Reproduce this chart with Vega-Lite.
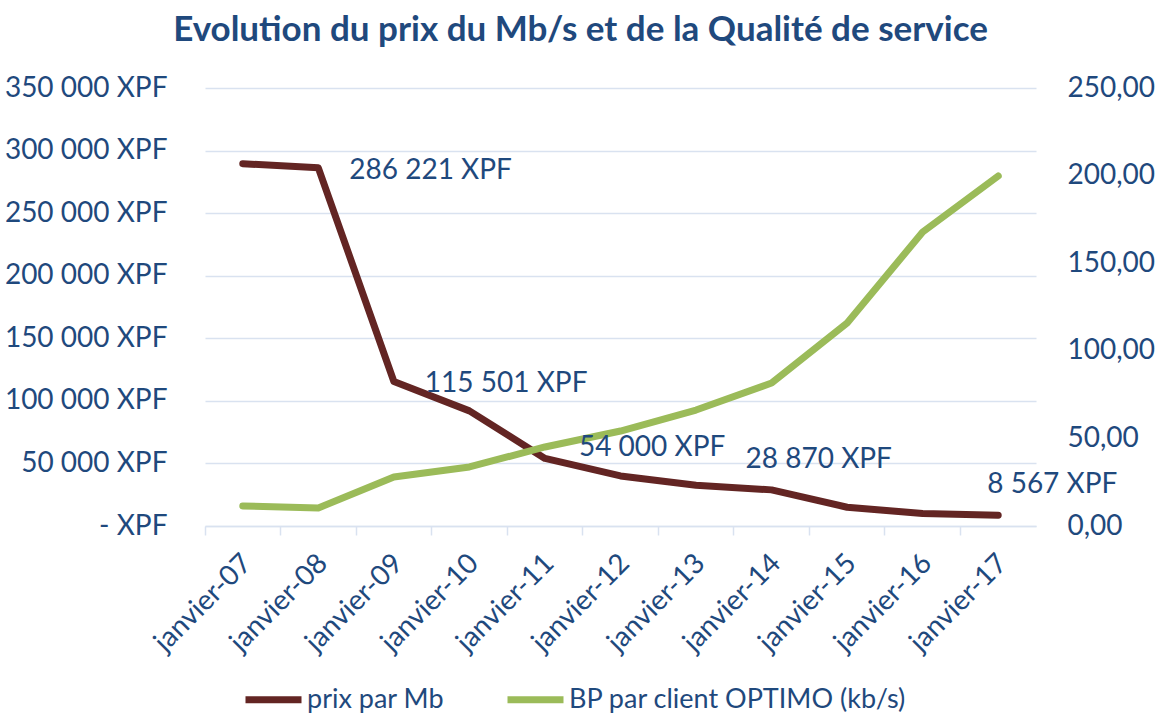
{
  "$schema": "https://vega.github.io/schema/vega-lite/v6.json",
  "width": 831,
  "height": 438,
  "autosize": {"type": "none"},
  "padding": {"left": 205, "top": 88, "right": 124, "bottom": 187},
  "background": "white",
  "title": {
    "text": "Evolution du prix du Mb/s et de la Qualité de service",
    "font": "Lato",
    "fontSize": 35,
    "fontWeight": "bold",
    "color": "#1F497D",
    "anchor": "middle",
    "dx": -40,
    "offset": 26
  },
  "config": {
    "view": {"stroke": null},
    "font": "Lato",
    "axis": {
      "labelFont": "Lato",
      "labelFontSize": 28,
      "labelColor": "#1F497D",
      "title": null
    }
  },
  "data": {
    "values": [
      {"mois": "janvier-07", "prix": 289500, "bp": 11.4, "etiquette": null},
      {"mois": "janvier-08", "prix": 286221, "bp": 10.3, "etiquette": "286 221 XPF"},
      {"mois": "janvier-09", "prix": 115501, "bp": 28.0, "etiquette": "115 501 XPF"},
      {"mois": "janvier-10", "prix": 92000, "bp": 33.7, "etiquette": null},
      {"mois": "janvier-11", "prix": 54000, "bp": 45.1, "etiquette": "54 000 XPF"},
      {"mois": "janvier-12", "prix": 40000, "bp": 54.2, "etiquette": null},
      {"mois": "janvier-13", "prix": 32500, "bp": 66.2, "etiquette": null},
      {"mois": "janvier-14", "prix": 28870, "bp": 81.6, "etiquette": "28 870 XPF"},
      {"mois": "janvier-15", "prix": 15000, "bp": 115.9, "etiquette": null},
      {"mois": "janvier-16", "prix": 10000, "bp": 167.8, "etiquette": null},
      {"mois": "janvier-17", "prix": 8567, "bp": 199.8, "etiquette": "8 567 XPF"}
    ]
  },
  "encoding": {
    "x": {
      "field": "mois",
      "type": "ordinal",
      "sort": null,
      "scale": {"type": "band", "paddingInner": 0, "paddingOuter": 0},
      "axis": {
        "labelAngle": -45,
        "bandPosition": 0,
        "labelOffset": -5,
        "tickSize": 9,
        "tickColor": "#D9E2F0",
        "tickWidth": 1.5,
        "domainColor": "#D9E2F0",
        "domainWidth": 1.5,
        "labelPadding": 14,
        "grid": false
      }
    }
  },
  "layer": [
    {
      "mark": {"type": "line", "strokeWidth": 7, "strokeCap": "round", "strokeJoin": "round"},
      "encoding": {
        "y": {
          "field": "prix",
          "type": "quantitative",
          "scale": {"domain": [0, 350000], "nice": false},
          "axis": {
            "values": [0, 50000, 100000, 150000, 200000, 250000, 300000, 350000],
            "labelExpr": "datum.value == 0 ? '- XPF' : replace(format(datum.value, ',.0f'), ',', ' ') + ' XPF'",
            "grid": true,
            "gridColor": "#D9E2F0",
            "gridWidth": 1.5,
            "domain": false,
            "ticks": false,
            "tickSize": 0,
            "labelPadding": 38
          }
        },
        "color": {
          "datum": "prix par Mb",
          "scale": {
            "domain": ["prix par Mb", "BP par client OPTIMO (kb/s)"],
            "range": ["#632523", "#9BBB59"]
          },
          "legend": {
            "orient": "none",
            "legendX": 37,
            "legendY": 580,
            "direction": "horizontal",
            "title": null,
            "symbolType": "stroke",
            "symbolSize": 3136,
            "symbolStrokeWidth": 7,
            "labelFont": "Lato",
            "labelFontSize": 27,
            "labelColor": "#1F497D",
            "labelLimit": 500,
            "labelOffset": 2,
            "columnPadding": 48
          }
        }
      }
    },
    {
      "mark": {"type": "line", "strokeWidth": 7, "strokeCap": "round", "strokeJoin": "round"},
      "encoding": {
        "y": {
          "field": "bp",
          "type": "quantitative",
          "scale": {"domain": [0, 250], "nice": false},
          "axis": {
            "orient": "right",
            "values": [0, 50, 100, 150, 200, 250],
            "labelExpr": "replace(format(datum.value, '.2f'), '.', ',')",
            "grid": false,
            "domain": false,
            "ticks": false,
            "tickSize": 0,
            "labelPadding": 31
          }
        },
        "color": {"datum": "BP par client OPTIMO (kb/s)"}
      }
    },
    {
      "transform": [{"filter": "datum.mois == 'janvier-08' || datum.mois == 'janvier-09'"}],
      "mark": {"type": "text", "align": "left", "baseline": "middle", "dx": 31, "dy": 3, "font": "Lato", "fontSize": 28, "color": "#1F497D"},
      "encoding": {
        "y": {"field": "prix", "type": "quantitative", "scale": {"domain": [0, 350000], "nice": false}, "axis": null},
        "text": {"field": "etiquette"}
      }
    },
    {
      "transform": [{"filter": "datum.mois == 'janvier-11'"}],
      "mark": {"type": "text", "align": "left", "baseline": "middle", "dx": 34, "dy": -10, "font": "Lato", "fontSize": 28, "color": "#1F497D"},
      "encoding": {
        "y": {"field": "prix", "type": "quantitative", "scale": {"domain": [0, 350000], "nice": false}, "axis": null},
        "text": {"field": "etiquette"}
      }
    },
    {
      "transform": [{"filter": "datum.mois == 'janvier-14'"}],
      "mark": {"type": "text", "align": "left", "baseline": "middle", "dx": -26, "dy": -30, "font": "Lato", "fontSize": 28, "color": "#1F497D"},
      "encoding": {
        "y": {"field": "prix", "type": "quantitative", "scale": {"domain": [0, 350000], "nice": false}, "axis": null},
        "text": {"field": "etiquette"}
      }
    },
    {
      "transform": [{"filter": "datum.mois == 'janvier-17'"}],
      "mark": {"type": "text", "align": "left", "baseline": "middle", "dx": -11, "dy": -30, "font": "Lato", "fontSize": 28, "color": "#1F497D"},
      "encoding": {
        "y": {"field": "prix", "type": "quantitative", "scale": {"domain": [0, 350000], "nice": false}, "axis": null},
        "text": {"field": "etiquette"}
      }
    }
  ],
  "resolve": {"scale": {"y": "independent"}}
}
